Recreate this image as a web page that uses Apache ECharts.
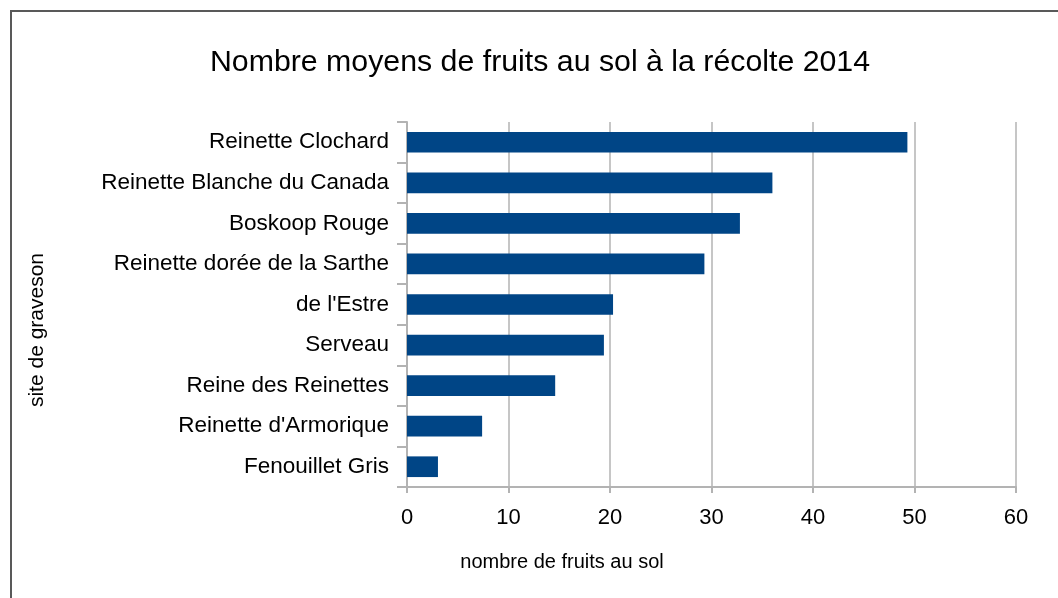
<!DOCTYPE html>
<html>
<head>
<meta charset="utf-8">
<script src="https://cdn.jsdelivr.net/npm/echarts@6/dist/echarts.min.js"></script>
<style>
  html, body { margin: 0; padding: 0; background: #fff; }
  #chart { width: 1058px; height: 598px; }
</style>
</head>
<body>
<div id="chart"></div>
<script>
// variétés, du bas vers le haut
const varietes = [
  'Fenouillet Gris',
  "Reinette d'Armorique",
  'Reine des Reinettes',
  'Serveau',
  "de l'Estre",
  'Reinette dorée de la Sarthe',
  'Boskoop Rouge',
  'Reinette Blanche du Canada',
  'Reinette Clochard',
]
const fruitsAuSol = [3.05, 7.4, 14.6, 19.4, 20.3, 29.3, 32.8, 36.0, 49.3]

const font = 'Liberation Sans, Arial, sans-serif'
const gris = '#b3b3b3'

const option = {
  animation: false,
  backgroundColor: '#fff',
  title: {
    text: 'Nombre moyens de fruits au sol à la récolte 2014',
    left: 535,
    top: 43,
    textAlign: 'center',
    textStyle: { fontFamily: font, fontSize: 30.3, fontWeight: 'normal', color: '#000' },
  },
  grid: { left: 407, top: 122, right: 42, bottom: 111 },
  xAxis: {
    type: 'value',
    min: 0,
    max: 60,
    interval: 10,
    axisLine: { show: true, lineStyle: { color: gris, width: 2 } },
    axisTick: { show: true, length: 6, lineStyle: { color: gris, width: 2 } },
    splitLine: { show: true, lineStyle: { color: gris, width: 1.5 } },
    axisLabel: { fontFamily: font, fontSize: 22, color: '#000', margin: 20 },
  },
  yAxis: {
    type: 'category',
    data: varietes,
    axisLine: { show: true, lineStyle: { color: gris, width: 2 } },
    axisTick: { show: true, length: 10, lineStyle: { color: gris, width: 2 } },
    axisLabel: { fontFamily: font, fontSize: 22.5, color: '#000', margin: 18 },
  },
  series: [
    {
      type: 'bar',
      data: fruitsAuSol,
      barWidth: '51%',
      itemStyle: { color: '#004586' },
    },
  ],
  graphic: [
    {
      type: 'rect',
      shape: { x: 11, y: 11, width: 1100, height: 650 },
      style: { fill: 'none', stroke: '#595959', lineWidth: 2 },
      silent: true,
    },
    {
      type: 'text',
      x: 562,
      y: 562,
      style: {
        text: 'nombre de fruits au sol',
        font: '20px ' + font,
        fill: '#000',
        align: 'center',
        verticalAlign: 'middle',
      },
    },
    {
      type: 'text',
      x: 37,
      y: 330,
      rotation: Math.PI / 2,
      style: {
        text: 'site de graveson',
        font: '21px ' + font,
        fill: '#000',
        align: 'center',
        verticalAlign: 'middle',
      },
    },
  ],
}

const chart = echarts.init(document.getElementById('chart'))
chart.setOption(option)
window.addEventListener('resize', () => chart.resize())
</script>
</body>
</html>
